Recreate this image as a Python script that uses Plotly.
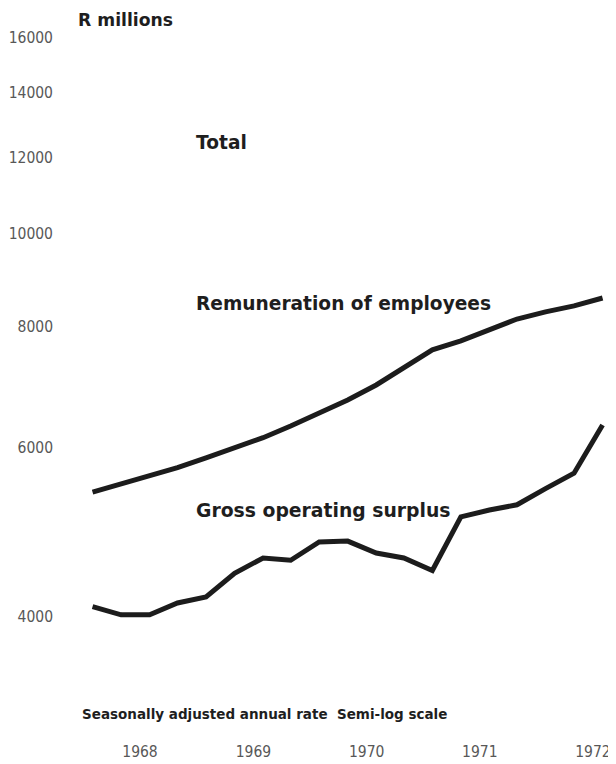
import plotly.graph_objects as go
import math

# quarterly observations, 1967 Q3 .. 1972 Q1 (plotted at the middle month of each quarter)
quarters = ["1967-08-01", "1967-11-01",
            "1968-02-01", "1968-05-01", "1968-08-01", "1968-11-01",
            "1969-02-01", "1969-05-01", "1969-08-01", "1969-11-01",
            "1970-02-01", "1970-05-01", "1970-08-01", "1970-11-01",
            "1971-02-01", "1971-05-01", "1971-08-01", "1971-11-01",
            "1972-02-01"]
remuneration = [5390, 5500, 5605, 5715, 5850, 5990, 6140, 6315, 6515, 6720,
                6965, 7255, 7575, 7740, 7945, 8155, 8295, 8415, 8575]
gross_operating_surplus = [4100, 4020, 4020, 4135, 4195, 4440, 4605, 4580, 4785, 4795,
                           4660, 4605, 4470, 5080, 5165, 5230, 5435, 5640, 6330]
y_ticks = [4000, 6000, 8000, 10000, 12000, 14000, 16000]
x_ticks = ["1968-01-01", "1969-01-01", "1970-01-01", "1971-01-01", "1972-01-01"]
x_tick_text = ["1968", "1969", "1970", "1971", "1972"]

LINE = "#1c1c1c"
TXT = "#1e1e1e"
TICK = "#585858"
TICKFONT = "DejaVu Sans Condensed, Liberation Sans Narrow, Roboto"

fig = go.Figure()
for vals in (remuneration, gross_operating_surplus):
    fig.add_trace(go.Scatter(x=quarters, y=vals, mode="lines",
                             line=dict(color=LINE, width=5), showlegend=False,
                             hoverinfo="skip"))

# page has an 8px body margin; figure is sized so it fits the 616x764 window
FW, FH = 608, 756
L, R, T, B = 52, 6, 12, 26
W, H = FW - L - R, FH - T - B

# helpers: screen-pixel positions (window coords) -> paper coords
def px(x):
    return (x - 8 - L) / W

def py(y):
    return (FH - B - (y - 8)) / H

anns = [
    ("<b>R millions</b>", 76, 20, 17.2),
    ("<b>Total</b>", 194, 142, 18.6),
    ("<b>Remuneration of employees</b>", 194, 303, 18.6),
    ("<b>Gross operating surplus</b>", 194, 510, 18.8),
    ("<b>Seasonally adjusted annual rate  Semi-log scale</b>", 80, 714, 13.5),
]
for text, x, y, s in anns:
    fig.add_annotation(text=text, xref="paper", yref="paper", x=px(x), y=py(y),
                       xanchor="left", yanchor="middle", showarrow=False,
                       font=dict(family="DejaVu Sans", size=s, color=TXT))

fig.update_layout(
    width=FW, height=FH,
    margin=dict(l=L, r=R, t=T, b=B, autoexpand=False),
    paper_bgcolor="white", plot_bgcolor="white",
    xaxis=dict(type="date", range=["1967-04-18", "1972-02-25"], tickvals=x_ticks,
               ticktext=x_tick_text, showgrid=False, zeroline=False,
               showline=False, ticks="", ticklabelstandoff=2, automargin=False,
               ticklabeloverflow="allow",
               tickfont=dict(family=TICKFONT, size=15.5, color=TICK)),
    yaxis=dict(type="log", range=[math.log10(2994), math.log10(16673)],
               tickvals=y_ticks, ticktext=[str(v) for v in y_ticks],
               showgrid=False, zeroline=False, showline=False, ticks="",
               ticklabelstandoff=6, automargin=False, ticklabeloverflow="allow",
               tickfont=dict(family=TICKFONT, size=15.5, color=TICK)),
)

fig.write_html("out.html")
